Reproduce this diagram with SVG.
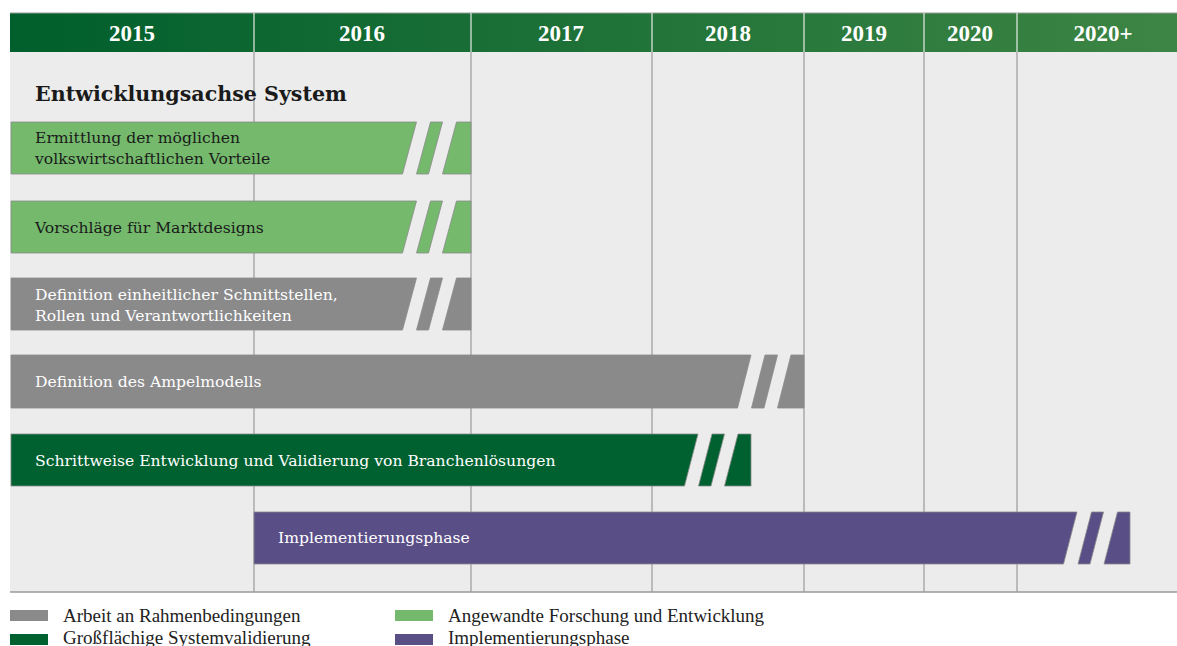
<svg xmlns="http://www.w3.org/2000/svg" width="1177" height="646" viewBox="0 0 1177 646">
<defs>
<linearGradient id="hdr" x1="0" y1="0" x2="1" y2="0">
<stop offset="0" stop-color="#005f2c"/>
<stop offset="1" stop-color="#3d8544"/>
</linearGradient>
</defs>
<style>
.yr{font-family:"Liberation Serif","DejaVu Serif",serif;font-weight:bold;font-size:23px;fill:#fff;text-anchor:middle}
.bt{font-family:"DejaVu Serif","Liberation Serif",serif;font-size:15.6px;fill:#1a1a1a}
.bw{font-family:"DejaVu Serif","Liberation Serif",serif;font-size:15.6px;fill:#fff}
.lg{font-family:"Liberation Serif","DejaVu Serif",serif;font-size:19px;fill:#222}
.grid{stroke:#9a9a9a;stroke-width:1.2}
.lg1{fill:#74b96c;stroke:#8a8a8a;stroke-width:0.8}
.gr{fill:#8a8a8b;stroke:#8a8a8a;stroke-width:0.8}
.dg{fill:#006130;stroke:#8a8a8a;stroke-width:0.8}
.pu{fill:#5a4e87;stroke:#8a8a8a;stroke-width:0.8}
</style>
<rect x="0" y="0" width="1177" height="646" fill="#fff"/>
<rect x="10" y="52" width="1167" height="540" fill="#ebeceb"/>
<g id="grid">
<line class="grid" x1="254" y1="52" x2="254" y2="592"/>
<line class="grid" x1="471" y1="52" x2="471" y2="592"/>
<line class="grid" x1="652" y1="52" x2="652" y2="592"/>
<line class="grid" x1="804" y1="52" x2="804" y2="592"/>
<line class="grid" x1="924" y1="52" x2="924" y2="592"/>
<line class="grid" x1="1017" y1="52" x2="1017" y2="592"/>
<line x1="10" y1="592" x2="1177" y2="592" stroke="#9a9a9a" stroke-width="1.5"/>
</g>
<g id="header">
<rect x="10" y="13" width="1167" height="39" fill="url(#hdr)"/>
<line x1="10" y1="13" x2="1177" y2="13" stroke="#9a9a9a" stroke-width="1"/>
<g stroke="#e8ece8" stroke-width="1.2">
<line x1="254" y1="13" x2="254" y2="52"/>
<line x1="471" y1="13" x2="471" y2="52"/>
<line x1="652" y1="13" x2="652" y2="52"/>
<line x1="804" y1="13" x2="804" y2="52"/>
<line x1="924" y1="13" x2="924" y2="52"/>
<line x1="1017" y1="13" x2="1017" y2="52"/>
</g>
<text class="yr" x="132" y="41">2015</text>
<text class="yr" x="362" y="41">2016</text>
<text class="yr" x="561" y="41">2017</text>
<text class="yr" x="728" y="41">2018</text>
<text class="yr" x="864" y="41">2019</text>
<text class="yr" x="970" y="41">2020</text>
<text class="yr" x="1103" y="41">2020+</text>
</g>
<text x="35" y="101" font-family="DejaVu Serif,Liberation Serif,serif" font-weight="bold" font-size="20.6" fill="#1a1a1a">Entwicklungsachse System</text>
<g id="bar1">
<path class="lg1" d="M11,122 H416.5 L402.5,174 H11 Z M430.5,122 H442.5 L428.5,174 H416.5 Z M456.5,122 H471 V174 H442.5 Z"/>
<text class="bt" x="35" y="143">Ermittlung der möglichen</text>
<text class="bt" x="35" y="164">volkswirtschaftlichen Vorteile</text>
</g>
<g id="bar2">
<path class="lg1" d="M11,201 H416.5 L402.5,253 H11 Z M430.5,201 H442.5 L428.5,253 H416.5 Z M456.5,201 H471 V253 H442.5 Z"/>
<text class="bt" x="35" y="233">Vorschläge für Marktdesigns</text>
</g>
<g id="bar3">
<path class="gr" d="M11,278 H416.5 L402.5,330 H11 Z M430.5,278 H442.5 L428.5,330 H416.5 Z M456.5,278 H471 V330 H442.5 Z"/>
<text class="bw" x="35" y="300">Definition einheitlicher Schnittstellen,</text>
<text class="bw" x="35" y="321">Rollen und Verantwortlichkeiten</text>
</g>
<g id="bar4">
<path class="gr" d="M11,355 H751 L737.5,408 H11 Z M765,355 H777.5 L764,408 H751.5 Z M791,355 H804 V408 H777.5 Z"/>
<text class="bw" x="35" y="387">Definition des Ampelmodells</text>
</g>
<g id="bar5">
<path class="dg" d="M11,434 H698 L684.5,486 H11 Z M712,434 H724.5 L711,486 H698.5 Z M738,434 H751 V486 H724.5 Z"/>
<text class="bw" x="35" y="466">Schrittweise Entwicklung und Validierung von Branchenlösungen</text>
</g>
<g id="bar6">
<path class="pu" d="M254,512 H1077 L1063.5,564 H254 Z M1091.5,512 H1103.5 L1090,564 H1078 Z M1117.5,512 H1130 V564 H1104 Z"/>
<text class="bw" x="278" y="543">Implementierungsphase</text>
</g>
<g id="legend">
<rect x="10" y="610" width="38" height="11" fill="#8a8a8b"/>
<text class="lg" x="63" y="622">Arbeit an Rahmenbedingungen</text>
<rect x="10" y="634" width="38" height="11" fill="#006130"/>
<text class="lg" x="63" y="644">Großflächige Systemvalidierung</text>
<rect x="395" y="610" width="38" height="11" fill="#74b96c"/>
<text class="lg" x="448" y="622">Angewandte Forschung und Entwicklung</text>
<rect x="395" y="634" width="38" height="11" fill="#5a4e87"/>
<text class="lg" x="448" y="644">Implementierungsphase</text>
</g>
</svg>
